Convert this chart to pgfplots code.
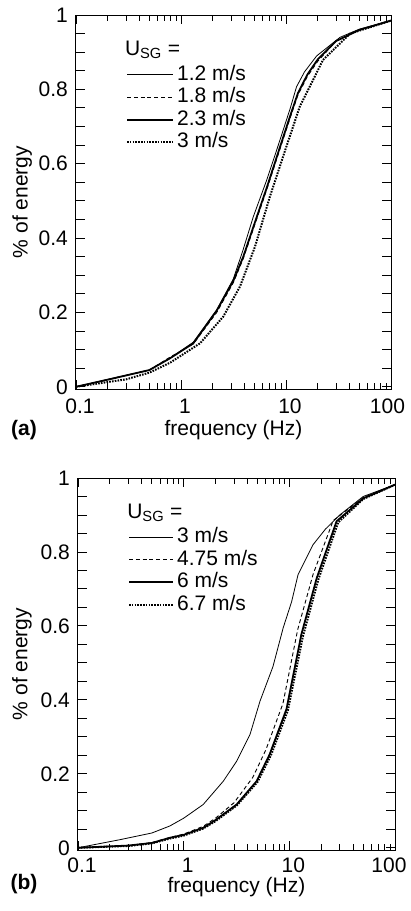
\documentclass[border=0pt]{standalone}
\usepackage{fontspec}
\setmainfont{Liberation Sans}
\usepackage{pgfplots}
\pgfplotsset{compat=1.18}
\pgfkeys{/pgf/number format/assume math mode=true}
\tikzset{
  s1/.style={black, line width=0.8pt},
  s2/.style={black, line width=0.9pt, dash pattern=on 4pt off 2.8pt},
  s3/.style={black, line width=1.8pt},
  s4/.style={black, line width=2pt, dash pattern=on 1.6pt off 1.2pt},
}
\newcommand{\fs}{\fontsize{21}{24}\selectfont}
\begin{document}
\begin{tikzpicture}
\path[use as bounding box] (0pt,0pt) rectangle (410pt,-911pt);
% ---------- panel (a)
\begin{axis}[at={(76pt,-389pt)}, anchor=south west, width=315pt, height=374pt,
    scale only axis, xmode=log, xmin=0.1, xmax=100, ymin=-0.006, ymax=1,
    xtick={0.1,1,10,100}, xticklabels={0.1,1,10,\kern-15pt 100},
    ytick={0,0.05,...,1.01},
    yticklabels={0,,,,0.2,,,,0.4,,,,0.6,,,,0.8,,,,1},
    tick align=inside, tick pos=both,
    major tick length=9pt, minor tick length=6pt,
    tick style={line width=0.9pt, black},
    axis line style={line width=1pt},
    xticklabel style={font=\fs, inner sep=0pt, text height=15pt, text depth=0pt, yshift=-9pt, xshift=4pt},
    yticklabel style={font=\fs, inner sep=0pt, xshift=-8pt},
    label style={font=\fs},
    xlabel={frequency (Hz)}, ylabel={\% of energy},
    xlabel style={at={(rel axis cs:0.5,0)}, anchor=base, inner sep=0pt, yshift=-46pt},
    ylabel style={at={(axis description cs:-0.171,0.5)}, anchor=center, inner sep=0pt},
    legend cell align=left,
    legend style={draw=none, fill=none, font=\fs, inner sep=0pt, outer sep=0pt,
      row sep=3.5pt, column sep=3pt,
      nodes={inner sep=0pt, text height=15pt, text depth=4pt},
      at={(rel axis cs:0.159,0.866)}, anchor=north west},
    legend image code/.code={\draw[#1] (0pt,0pt) -- (46pt,0pt);}]
\addplot[s1] coordinates {(0.1,0) (0.2,0.02) (0.5,0.045) (0.79,0.077) (1.31,0.12) (2.19,0.207) (3.15,0.29) (3.92,0.37) (4.89,0.458) (6.55,0.556) (8.77,0.664) (11,0.75) (12.6,0.807) (15,0.847) (19.6,0.89) (32.7,0.94) (50,0.962) (100,0.985)};
\addlegendentry{1.2 m/s}
\addplot[s2] coordinates {(0.1,0) (0.2,0.019) (0.5,0.045) (0.79,0.08) (1.31,0.115) (2.19,0.2) (3.15,0.28) (3.92,0.345) (4.89,0.425) (6.55,0.53) (8.77,0.64) (11,0.725) (13,0.785) (16,0.835) (20,0.875) (30,0.93) (50,0.96) (100,0.985)};
\addlegendentry{1.8 m/s}
\addplot[s3] coordinates {(0.1,0) (0.2,0.019) (0.5,0.045) (0.79,0.077) (1.31,0.117) (2.19,0.205) (3.15,0.285) (3.92,0.35) (4.89,0.43) (6.55,0.535) (8.77,0.645) (11,0.73) (13,0.79) (16,0.84) (20,0.88) (30,0.93) (50,0.96) (100,0.985)};
\addlegendentry{2.3 m/s}
\addplot[s4] coordinates {(0.1,0) (0.3,0.02) (0.5,0.038) (0.79,0.065) (1.52,0.117) (2.53,0.189) (3.65,0.27) (5.07,0.377) (5.65,0.422) (7,0.51) (9.4,0.62) (13.5,0.753) (22.5,0.879) (40.8,0.95) (100,0.985)};
\addlegendentry{3 m/s}
\node[anchor=base west, font=\fs, inner sep=0pt] at (rel axis cs:0.155,0.893) {U\textsubscript{SG} =};
\end{axis}
\node[font=\fs\bfseries, anchor=base, inner sep=0pt] at (24pt,-435pt) {(a)};
% ---------- panel (b)
\begin{axis}[at={(78pt,-850pt)}, anchor=south west, width=317pt, height=372pt,
    scale only axis, xmode=log, xmin=0.1, xmax=100, ymin=-0.006, ymax=1,
    xtick={0.1,1,10,100}, xticklabels={0.1,1,10,\kern-20pt 100},
    ytick={0,0.05,...,1.01},
    yticklabels={0,,,,0.2,,,,0.4,,,,0.6,,,,0.8,,,,1},
    tick align=inside, tick pos=both,
    major tick length=9pt, minor tick length=6pt,
    tick style={line width=0.9pt, black},
    axis line style={line width=1pt},
    xticklabel style={font=\fs, inner sep=0pt, text height=15pt, text depth=0pt, yshift=-7pt, xshift=4pt},
    yticklabel style={font=\fs, inner sep=0pt, xshift=-8pt},
    label style={font=\fs},
    xlabel={frequency (Hz)}, ylabel={\% of energy},
    xlabel style={at={(rel axis cs:0.5,0)}, anchor=base, inner sep=0pt, yshift=-42pt},
    ylabel style={at={(axis description cs:-0.177,0.5)}, anchor=center, inner sep=0pt},
    legend cell align=left,
    legend style={draw=none, fill=none, font=\fs, inner sep=0pt, outer sep=0pt,
      row sep=3.5pt, column sep=3pt,
      nodes={inner sep=0pt, text height=15pt, text depth=4pt},
      at={(rel axis cs:0.158,0.866)}, anchor=north west},
    legend image code/.code={\draw[#1] (0pt,0pt) -- (44pt,0pt);}]
\addplot[s1] coordinates {(0.1,0) (0.25,0.022) (0.5,0.04) (0.74,0.059) (1,0.08) (1.53,0.117) (2.37,0.18) (3.17,0.234) (4.24,0.306) (5.27,0.396) (7,0.49) (8.75,0.595) (10.5,0.665) (12.1,0.739) (16.8,0.82) (22,0.862) (30,0.90) (50,0.95) (100,0.982)};
\addlegendentry{3 m/s}
\addplot[s2] coordinates {(0.1,0) (0.3,0.006) (0.5,0.014) (0.74,0.028) (1,0.037) (1.53,0.058) (2,0.08) (3,0.122) (4.5,0.19) (6,0.265) (8.7,0.39) (12,0.59) (16.8,0.74) (26,0.885) (50,0.947) (100,0.982)};
\addlegendentry{4.75 m/s}
\addplot[s3] coordinates {(0.1,0) (0.3,0.006) (0.5,0.013) (0.74,0.027) (1,0.035) (1.53,0.054) (2,0.075) (3.17,0.117) (4.9,0.18) (6.5,0.252) (9.4,0.375) (13,0.577) (18.2,0.73) (28,0.883) (50,0.945) (100,0.982)};
\addlegendentry{6 m/s}
\addplot[s4] coordinates {(0.1,0) (0.3,0.005) (0.5,0.012) (0.74,0.025) (1,0.033) (1.53,0.052) (2,0.072) (3.2,0.115) (5,0.178) (6.7,0.25) (9.7,0.372) (13.4,0.57) (18.8,0.725) (29,0.88) (50,0.943) (100,0.982)};
\addlegendentry{6.7 m/s}
\node[anchor=base west, font=\fs, inner sep=0pt] at (rel axis cs:0.155,0.892) {U\textsubscript{SG} =};
\end{axis}
\node[font=\fs\bfseries, anchor=base, inner sep=0pt] at (24pt,-889pt) {(b)};
\end{tikzpicture}
\end{document}
